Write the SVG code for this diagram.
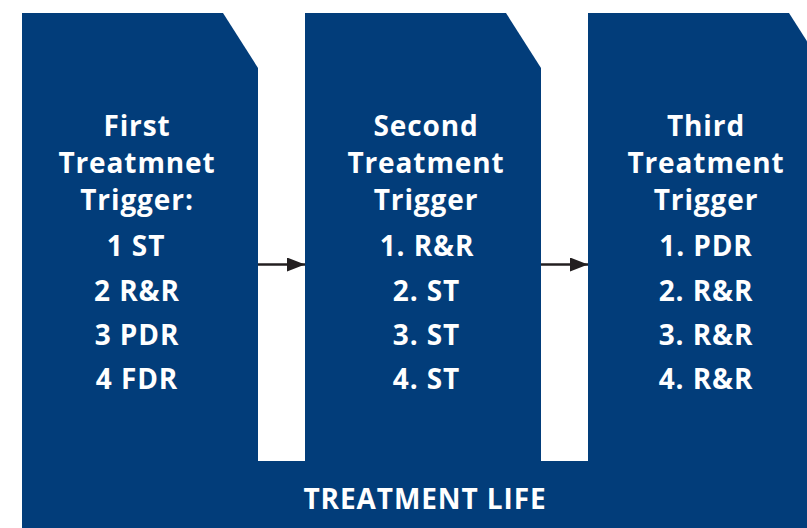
<svg xmlns="http://www.w3.org/2000/svg" width="807" height="528" viewBox="0 0 807 528">
  <style>
    .panel { fill: #023d7a; }
    .label { fill: #ffffff; font-family: "Open Sans", "Noto Sans", "Liberation Sans", sans-serif; font-weight: 700; font-size: 28px; letter-spacing: 0.9px; text-anchor: middle; }
    .link { stroke: #231f20; stroke-width: 2.5; fill: none; }
  </style>
  <defs>
    <marker id="arrowhead" markerUnits="userSpaceOnUse" markerWidth="20" markerHeight="14" refX="18" refY="7" orient="auto">
      <path d="M0,0 L18,7 L0,14 Z" fill="#231f20"/>
    </marker>
  </defs>
  <rect width="807" height="528" fill="#ffffff"/>

  <g id="treatment-life">
    <rect class="panel" x="22" y="461" width="785" height="67"/>
    <text class="label" x="425" y="509">TREATMENT LIFE</text>
  </g>

  <g id="first-trigger">
    <path class="panel" d="M22,13 H223 L258,68 V462 H22 Z"/>
    <text class="label" x="137" y="136">First</text>
    <text class="label" x="137" y="173">Treatmnet</text>
    <text class="label" x="137" y="210">Trigger:</text>
    <text class="label" x="136" y="256">1 ST</text>
    <text class="label" x="137" y="300.5">2 R&amp;R</text>
    <text class="label" x="137" y="345">3 PDR</text>
    <text class="label" x="137" y="389">4 FDR</text>
  </g>

  <g id="second-trigger">
    <path class="panel" d="M305,13 H506 L541,68 V462 H305 Z"/>
    <text class="label" x="426" y="136">Second</text>
    <text class="label" x="426" y="173">Treatment</text>
    <text class="label" x="426" y="210">Trigger</text>
    <text class="label" x="427" y="256">1. R&amp;R</text>
    <text class="label" x="426.5" y="300.5">2. ST</text>
    <text class="label" x="426.5" y="345">3. ST</text>
    <text class="label" x="426.5" y="389">4. ST</text>
  </g>

  <g id="third-trigger">
    <path class="panel" d="M588,13 H789 L824,68 V462 H588 Z"/>
    <text class="label" x="706" y="136">Third</text>
    <text class="label" x="706" y="173">Treatment</text>
    <text class="label" x="706" y="210">Trigger</text>
    <text class="label" x="706" y="256">1. PDR</text>
    <text class="label" x="706" y="300.5">2. R&amp;R</text>
    <text class="label" x="706" y="345">3. R&amp;R</text>
    <text class="label" x="706" y="389">4. R&amp;R</text>
  </g>

  <g id="connectors">
    <line class="link" x1="258" y1="264.5" x2="305" y2="264.5" marker-end="url(#arrowhead)"/>
    <line class="link" x1="541" y1="264.5" x2="588" y2="264.5" marker-end="url(#arrowhead)"/>
  </g>
</svg>
